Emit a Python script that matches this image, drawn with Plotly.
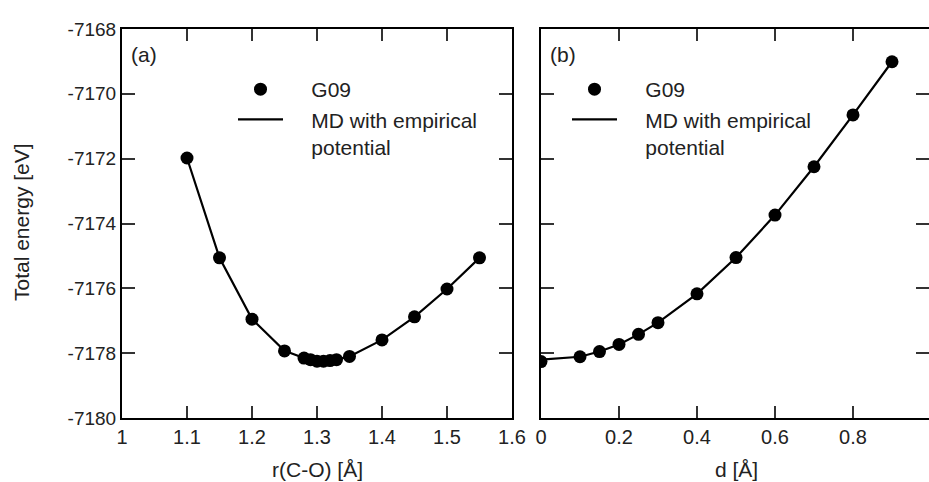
import plotly.graph_objects as go

# ---- data ----
r_co = [1.10, 1.15, 1.20, 1.25, 1.28, 1.29, 1.30, 1.31, 1.32, 1.33, 1.35, 1.40, 1.45, 1.50, 1.55]
e_a_g09 = [-7171.98, -7175.06, -7176.95, -7177.93, -7178.15, -7178.20, -7178.25, -7178.25,
           -7178.23, -7178.20, -7178.10, -7177.59, -7176.88, -7176.02, -7175.06]
e_a_md = [-7171.98, -7175.06, -7176.95, -7177.93, -7178.15, -7178.20, -7178.25, -7178.25,
          -7178.23, -7178.20, -7178.10, -7177.59, -7176.88, -7176.02, -7175.06]

d_vals = [0.0, 0.1, 0.15, 0.2, 0.25, 0.3, 0.4, 0.5, 0.6, 0.7, 0.8, 0.9]
e_b_g09 = [-7178.26, -7178.11, -7177.95, -7177.73, -7177.42, -7177.06, -7176.17,
           -7175.05, -7173.74, -7172.25, -7170.65, -7169.01]
e_b_md = [-7178.20, -7178.11, -7177.95, -7177.73, -7177.42, -7177.06, -7176.17,
          -7175.05, -7173.74, -7172.25, -7170.65, -7169.01]

y_ticks = [-7180, -7178, -7176, -7174, -7172, -7170, -7168]
y_ticktext = ["-7180", "-7178", "-7176", "-7174", "-7172", "-7170", "-7168"]
xa_ticks = [1, 1.1, 1.2, 1.3, 1.4, 1.5, 1.6]
xa_ticktext = ["1", "1.1", "1.2", "1.3", "1.4", "1.5", "1.6"]
xb_ticks = [0, 0.2, 0.4, 0.6, 0.8, 1.0]
xb_ticktext = ["0", "0.2", "0.4", "0.6", "0.8", "1"]

W, H = 929, 482
FONT = "Liberation Sans, Arial, sans-serif"
pad = "\u00a0" * 4
legend_names = [pad + "G09", pad + "MD with empirical<br>" + pad + "potential"]

fig = go.Figure()
# panel (a)
fig.add_trace(go.Scatter(x=r_co, y=e_a_md, mode="lines", line=dict(color="black", width=2.2),
                         name=legend_names[1], legend="legend", legendrank=2,
                         xaxis="x", yaxis="y"))
fig.add_trace(go.Scatter(x=r_co, y=e_a_g09, mode="markers", marker=dict(color="black", size=13),
                         name=legend_names[0], legend="legend", legendrank=1,
                         xaxis="x", yaxis="y"))
# panel (b)
fig.add_trace(go.Scatter(x=d_vals, y=e_b_md, mode="lines", line=dict(color="black", width=2.2),
                         name=legend_names[1], legend="legend2", legendrank=2,
                         xaxis="x2", yaxis="y2"))
fig.add_trace(go.Scatter(x=d_vals, y=e_b_g09, mode="markers", marker=dict(color="black", size=13),
                         name=legend_names[0], legend="legend2", legendrank=1,
                         xaxis="x2", yaxis="y2"))
# invisible helper to activate right-hand tick axis of panel (b)
fig.add_trace(go.Scatter(x=[], y=[], xaxis="x2", yaxis="y3", showlegend=False, hoverinfo="skip"))

ya_dom = [1 - 418 / H, 1 - 29 / H]
xa_dom = [122 / W, 512 / W]
xb_dom = [541 / W, 1.0]
xb_range = [0, (W - 541) / 390.0]

common_ax = dict(showline=True, linecolor="black", linewidth=2, ticks="inside",
                 tickcolor="#333", tickwidth=1.5, showgrid=False, zeroline=False,
                 automargin=False, tickmode="array")

legend_common = dict(bgcolor="rgba(0,0,0,0)", borderwidth=0, itemwidth=45, valign="top",
                     font=dict(family=FONT, size=21, color="#222"), tracegroupgap=0,
                     xanchor="left", yanchor="top", itemclick=False)

xtick_font = dict(family=FONT, size=20, color="#222")
ytick_font = dict(family=FONT, size=19, color="#222")

fig.update_layout(
    template="none",
    width=W, height=H,
    margin=dict(l=0, r=0, t=0, b=0, autoexpand=False),
    paper_bgcolor="white", plot_bgcolor="white",
    xaxis=dict(domain=xa_dom, range=[1, 1.6], tickvals=xa_ticks, ticktext=xa_ticktext,
               ticklen=12, mirror="ticks", anchor="y", tickfont=xtick_font, **common_ax),
    yaxis=dict(domain=ya_dom, range=[-7180, -7168], tickvals=y_ticks, ticktext=y_ticktext,
               ticklen=13, mirror="ticks", anchor="x", tickfont=ytick_font, **common_ax),
    xaxis2=dict(domain=xb_dom, range=xb_range, tickvals=xb_ticks, ticktext=xb_ticktext,
                ticklen=12, mirror="ticks", anchor="y2", tickfont=xtick_font, **common_ax),
    yaxis2=dict(domain=ya_dom, range=[-7180, -7168], tickvals=y_ticks, ticklen=13, mirror=False,
                showticklabels=False, anchor="x2", **common_ax),
    yaxis3=dict(overlaying="y2", side="right", anchor="x2", range=[-7180, -7168], tickvals=y_ticks,
                ticks="inside", ticklen=13, tickwidth=1.5, tickcolor="#333", showline=False,
                showticklabels=False, showgrid=False, zeroline=False, automargin=False),
    legend=dict(x=(236 - 3) / W, y=1 - 69 / H, **legend_common),
    legend2=dict(x=(570 - 3) / W, y=1 - 69 / H, **legend_common),
    showlegend=True,
)

ann_font = dict(family=FONT, size=21, color="#222")
fig.add_annotation(text="Total energy [eV]", textangle=-90, x=22 / W, y=1 - 222 / H,
                   xref="paper", yref="paper", xanchor="center", yanchor="middle",
                   showarrow=False, font=ann_font)
fig.add_annotation(text="r(C-O) [Å]", x=1.3, y=1 - 469 / H, xref="x", yref="paper",
                   xanchor="center", yanchor="middle", showarrow=False, font=ann_font)
fig.add_annotation(text="d [Å]", x=0.5, y=1 - 469 / H, xref="x2", yref="paper",
                   xanchor="center", yanchor="middle", showarrow=False, font=ann_font)
fig.add_annotation(text="(a)", x=1.0, y=-7168, xref="x", yref="y", xanchor="left", yanchor="top",
                   xshift=7, yshift=-12, showarrow=False, font=dict(family=FONT, size=21, color="#222"))
fig.add_annotation(text="(b)", x=0.0, y=-7168, xref="x2", yref="y2", xanchor="left", yanchor="top",
                   xshift=7, yshift=-12, showarrow=False, font=dict(family=FONT, size=21, color="#222"))

fig.write_html("out.html", config={"displayModeBar": False},
               post_script="document.body.style.margin='0';document.body.style.overflow='hidden';")
